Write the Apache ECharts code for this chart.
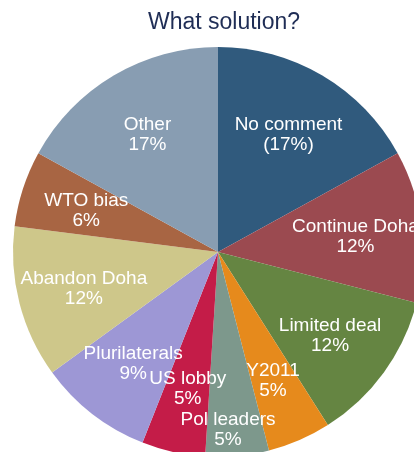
<!DOCTYPE html>
<html>
<head>
<meta charset="utf-8">
<script src="https://cdn.jsdelivr.net/npm/echarts@6/dist/echarts.min.js"></script>
<style>
  html, body { margin: 0; padding: 0; background: #ffffff; }
  #chart { width: 414px; height: 452px; }
</style>
</head>
<body>
<div id="chart"></div>
<script>
// Survey answers, clockwise from 12 o'clock
const categories = ['No comment', 'Continue Doha', 'Limited deal', 'Y2011', 'Pol leaders',
                    'US lobby', 'Plurilaterals', 'Abandon Doha', 'WTO bias', 'Other'];
const shares = [17, 12, 12, 5, 5, 5, 9, 12, 6, 17];
const sliceColors = ['#305A7D', '#9B4A50', '#658542', '#E68A1C', '#7D988C',
                     '#C41C48', '#9D97D5', '#CEC78A', '#A86543', '#889DB2'];
// answers whose percentage is shown in brackets
const bracketed = ['No comment'];

const chart = echarts.init(document.getElementById('chart'));

const sliceData = categories.map((name, i) => ({ name: name, value: shares[i] }));
const centre = [218, 252];
const outer = 205;

chart.setOption({
  animation: false,
  color: sliceColors,
  title: {
    text: 'What solution?',
    left: 219,
    textAlign: 'center',
    top: 6,
    textStyle: {
      fontFamily: 'Liberation Sans, Arial, sans-serif',
      fontSize: 23,
      fontWeight: 'normal',
      color: '#1F2D55'
    }
  },
  series: [
    {
      // the slices
      type: 'pie',
      center: centre,
      radius: outer,
      startAngle: 90,
      clockwise: true,
      silent: true,
      label: { show: false },
      labelLine: { show: false },
      itemStyle: { borderWidth: 0 },
      data: sliceData
    },
    {
      // transparent ring carrying the labels, so they sit two-thirds of the way out
      type: 'pie',
      center: centre,
      radius: [66, outer],
      startAngle: 90,
      clockwise: true,
      silent: true,
      itemStyle: { color: 'rgba(0,0,0,0)', borderWidth: 0 },
      labelLine: { show: false },
      label: {
        show: true,
        position: 'inside',
        fontFamily: 'Liberation Sans, Arial, sans-serif',
        fontSize: 19,
        lineHeight: 20,
        color: '#ffffff',
        align: 'center',
        formatter: function (p) {
          const pct = Math.round(p.percent) + '%';
          return p.name + '\n' + (bracketed.indexOf(p.name) >= 0 ? '(' + pct + ')' : pct);
        }
      },
      labelLayout: function (p) {
        // narrow bottom slice: push its label further out
        if (p.dataIndex === 4) return { dx: -3, dy: 40 };
        return { dy: 2 };
      },
      data: sliceData
    }
  ]
});
</script>
</body>
</html>
